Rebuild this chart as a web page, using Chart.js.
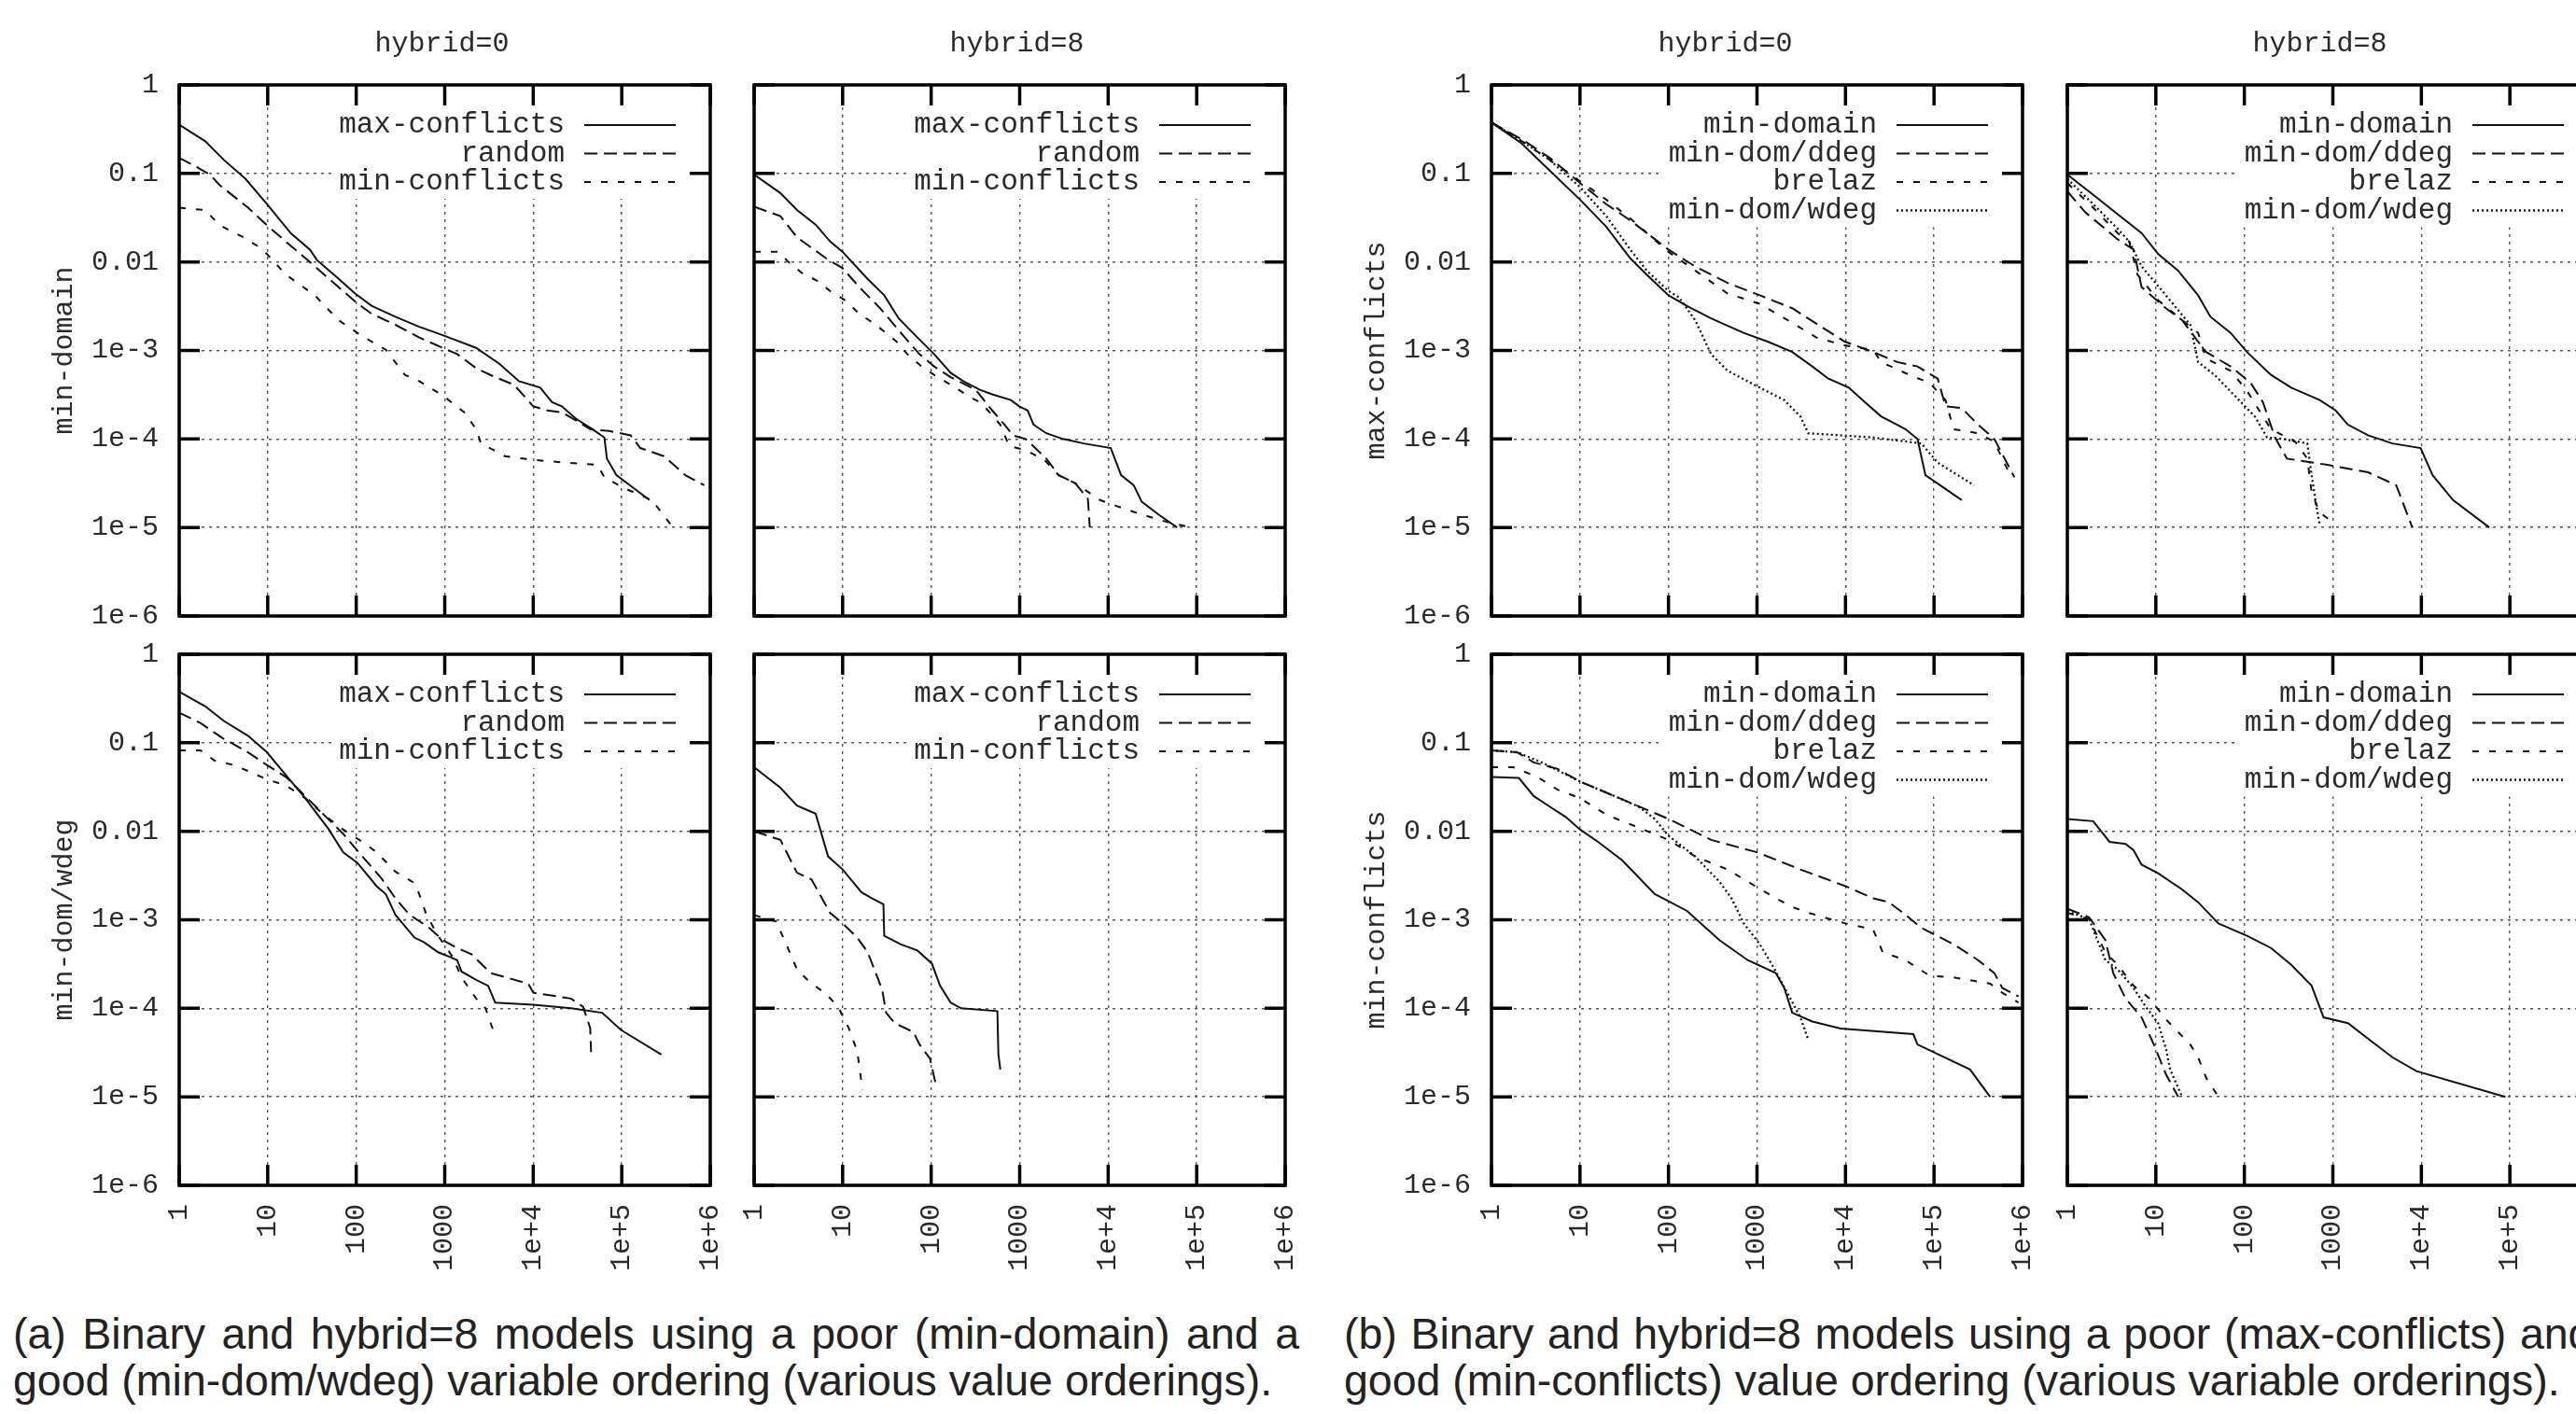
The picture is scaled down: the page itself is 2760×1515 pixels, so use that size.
<!DOCTYPE html>
<html>
<head>
<meta charset="utf-8">
<script src="https://cdn.jsdelivr.net/npm/chart.js@4.4.1/dist/chart.umd.min.js"></script>
<style>
  html, body { margin: 0; padding: 0; background: #fff; }
  body { width: 2760px; height: 1515px; position: relative; overflow: hidden; }
  canvas { position: absolute; }
  .caption {
    position: absolute;
    font-family: "Liberation Sans", Arial, sans-serif;
    font-size: 46.5px;
    line-height: 50px;
    color: #222;
    white-space: nowrap;
  }
  /* first caption line is justified to the column width, like the LaTeX original */
  .caption .full { width: 1378px; text-align: justify; text-align-last: justify; white-space: normal; }
</style>
</head>
<body>
<div class="caption" style="left:14px; top:1404px;"><div class="full">(a) Binary and hybrid=8 models using a poor (min-domain) and a</div><div>good (min-dom/wdeg) variable ordering (various value orderings).</div></div>
<div class="caption" style="left:1440px; top:1404px;"><div class="full">(b) Binary and hybrid=8 models using a poor (max-conflicts) and a</div><div>good (min-conflicts) value ordering (various variable orderings).</div></div>
<script>
// axis ticks
const xTickValues = [1, 10, 100, 1000, 1e4, 1e5, 1e6];
const xTickLabels = ["1", "10", "100", "1000", "1e+4", "1e+5", "1e+6"];
const yTickValues = [1e-6, 1e-5, 1e-4, 1e-3, 0.01, 0.1, 1];
const yTickLabels = ["1e-6", "1e-5", "1e-4", "1e-3", "0.01", "0.1", "1"];

const valueOrderings = ["max-conflicts", "random", "min-conflicts"];
const varOrderings = ["min-domain", "min-dom/ddeg", "brelaz", "min-dom/wdeg"];

// (a) top row: min-domain, hybrid=0 / hybrid=8   ([x, y] pairs)
const a1MaxConflicts = [[1,0.356],[1.97,0.231],[3.2,0.142],[5.6,0.087],[9.8,0.045],[18.3,0.021],[30,0.0138],[36,0.0105],[63,0.0065],[97,0.0044],[149,0.0032],[277,0.0024],[515,0.00185],[950,0.00149],[2265,0.00107],[4200,0.0007],[6900,0.00045],[12000,0.00038],[16300,0.00026],[21000,0.000234],[30300,0.00017],[46600,0.000129],[63600,0.000104],[68000,6.0e-5],[87000,3.9e-5],[206000,2.04e-5]];
const a1Random = [[1,0.15],[1.54,0.12],[2.23,0.097],[2.86,0.074],[6.0,0.041],[9.8,0.026],[16,0.017],[30,0.01],[55.6,0.0058],[103,0.0034],[149,0.0026],[277,0.00195],[515,0.0014],[950,0.00107],[1380,0.00091],[2265,0.00063],[3700,0.0005],[6060,0.00041],[10000,0.000234],[14500,0.00021],[21000,0.0002],[30300,0.000162],[44000,0.000129],[72000,0.000123],[126000,0.00011],[162000,7.9e-5],[298000,6.4e-5],[524000,3.9e-5],[854000,3.0e-5]];
const a1MinConflicts = [[1,0.041],[1.97,0.0386],[2.86,0.026],[5.3,0.019],[8.2,0.0145],[9.8,0.0123],[16,0.0072],[34,0.0042],[63,0.0022],[103,0.00158],[149,0.00126],[216,0.00102],[355,0.00053],[515,0.00045],[950,0.00031],[1660,0.0002],[2265,0.000129],[2570,8.9e-5],[4780,6.4e-5],[10000,5.8e-5],[23700,5.4e-5],[52800,5.1e-5],[63600,3.7e-5],[105000,2.8e-5],[219000,2.04e-5],[360000,1.07e-5]];

const a2MaxConflicts = [[1,0.097],[1.98,0.06],[3.05,0.0386],[4.95,0.0264],[7.2,0.0171],[10,0.013],[19.2,0.0064],[29.5,0.0042],[43,0.0023],[70,0.0014],[108,0.00091],[166,0.00056],[230,0.00045],[355,0.00036],[490,0.00032],[795,0.000275],[990,0.000234],[1230,0.00021],[1440,0.000145],[2000,0.000116],[3090,0.0001],[5300,8.9e-5],[10700,7.9e-5],[14000,3.9e-5],[19400,3.0e-5],[24000,1.95e-5],[37000,1.4e-5],[60000,1.0e-5]];
const a2Random = [[1,0.042],[1.98,0.033],[3.05,0.019],[6.5,0.011],[10,0.0085],[15.4,0.0052],[26.5,0.003],[50.5,0.0014],[73.5,0.00091],[108,0.00066],[166,0.0005],[318,0.00036],[490,0.00021],[676,0.000145],[840,0.00011],[1170,0.0001],[2000,6.0e-5],[2760,3.9e-5],[4260,3.16e-5],[5900,2.1e-5],[6200,1.0e-5]];
const a2MinConflicts = [[1,0.013],[1.87,0.013],[2.45,0.01],[3.4,0.0076],[5.2,0.0061],[7.2,0.0047],[10.6,0.0037],[15.4,0.0026],[23.7,0.00195],[40.7,0.00126],[53.7,0.00091],[78,0.00066],[108,0.00053],[166,0.00041],[257,0.00031],[355,0.00026],[437,0.00021],[605,0.000145],[760,8.3e-5],[1170,7.5e-5],[1900,5.8e-5],[2760,3.9e-5],[4260,3.16e-5],[8100,2.04e-5],[12600,1.74e-5],[24000,1.4e-5],[51000,1.12e-5],[87000,1.0e-5]];

// (a) bottom row: min-dom/wdeg
const a3MaxConflicts = [[1,0.377],[1.97,0.258],[3.2,0.176],[6.0,0.12],[9.8,0.078],[16.1,0.043],[26.5,0.0237],[49,0.0105],[71,0.0058],[103,0.0044],[170,0.0024],[216,0.00195],[277,0.00114],[455,0.00063],[580,0.00056],[842,0.00043],[1150,0.00038],[1380,0.00035],[1550,0.00026],[2265,0.00021],[3090,0.00018],[3720,0.000116],[10000,0.00011],[26700,0.0001],[60000,8.9e-5],[98000,5.7e-5],[280000,3.0e-5]];
const a3Random = [[1,0.219],[1.74,0.167],[3.04,0.114],[6,0.078],[9.8,0.056],[16.1,0.041],[26.5,0.025],[43,0.0154],[71,0.0094],[117,0.0052],[190,0.003],[277,0.00175],[400,0.00114],[660,0.00082],[950,0.00059],[1380,0.00048],[2000,0.00041],[3300,0.00025],[8800,0.00019],[10000,0.00015],[26700,0.000129],[36500,0.000104],[44000,6.0e-5],[45000,3.2e-5]];
const a3MinConflicts = [[1,0.082],[1.74,0.082],[2.5,0.063],[4.14,0.056],[6,0.048],[9.8,0.0386],[16,0.033],[26.5,0.0237],[43,0.0154],[71,0.0105],[117,0.0076],[170,0.0058],[277,0.0035],[455,0.0026],[515,0.00195],[620,0.00114],[842,0.00066],[1230,0.00038],[1550,0.000223],[2265,0.000129],[2890,0.0001],[3300,6.8e-5],[3720,4.9e-5]];

const a4MaxConflicts = [[1,0.053],[1.98,0.031],[3.05,0.0195],[4.95,0.0158],[6.85,0.0052],[10,0.0037],[16.3,0.00205],[21.3,0.00175],[28.9,0.0015],[29.5,0.00066],[45,0.00053],[70,0.00045],[102,0.00032],[126,0.00018],[166,0.000116],[218,0.0001],[560,9.3e-5],[575,3.0e-5],[605,2.04e-5]];
const a4Random = [[1,0.01],[1.98,0.008],[3.05,0.0034],[4.45,0.00285],[7.2,0.0012],[10,0.00091],[14.6,0.00063],[19.2,0.00043],[28,0.000162],[31,8.9e-5],[38.7,6.8e-5],[63,5.4e-5],[74,3.9e-5],[97,2.7e-5],[114,1.32e-5]];
const a4MinConflicts = [[1,0.00113],[1.77,0.00096],[2.2,0.00059],[3.05,0.000275],[4.2,0.0002],[6.5,0.000145],[8.9,0.000104],[11.7,6.0e-5],[14.6,3.3e-5],[16.8,1.19e-5]];

// (b) top row: max-conflicts
const b1MinDomain = [[1,0.377],[2.18,0.219],[4.55,0.108],[10,0.0506],[19.8,0.025],[37,0.011],[56.7,0.0072],[100,0.0042],[162,0.00317],[303,0.0023],[705,0.00158],[1320,0.00126],[2500,0.00096],[4220,0.00066],[6400,0.00048],[10900,0.00038],[16600,0.00026],[25200,0.00018],[38400,0.000145],[47500,0.000129],[65000,0.0001],[80000,3.9e-5],[206000,2.04e-5]];
const b1Ddeg = [[1,0.377],[2.4,0.231],[4.55,0.15],[10,0.078],[19.8,0.045],[37,0.0295],[100,0.0138],[200,0.0089],[465,0.0058],[1075,0.0042],[2500,0.003],[5800,0.00175],[9800,0.00126],[20500,0.00096],[38400,0.00074],[65000,0.00066],[110000,0.00048],[135000,0.000234],[206000,0.000223],[315000,0.000145],[480000,0.0001],[810000,3.7e-5]];
const b1Brelaz = [[1,0.377],[2.4,0.219],[4.55,0.142],[10,0.082],[19.8,0.0506],[37,0.031],[100,0.013],[200,0.008],[465,0.0044],[1075,0.00336],[2500,0.00205],[4700,0.0014],[9800,0.00114],[20500,0.00102],[25200,0.00074],[52500,0.00053],[89000,0.00043],[135000,0.000275],[166000,0.000129],[315000,0.000116],[480000,9.3e-5],[725000,3.9e-5]];
const b1Wdeg = [[1,0.377],[2.4,0.219],[4.55,0.142],[10,0.07],[19.8,0.033],[37,0.0138],[56.7,0.008],[100,0.0047],[131,0.004],[200,0.0022],[303,0.00091],[465,0.00059],[1075,0.00038],[2030,0.000275],[3090,0.00018],[3800,0.000116],[20500,0.000104],[72000,8.9e-5],[110000,5.4e-5],[283000,3.0e-5]];

const b2MinDomain = [[1,0.097],[2.17,0.053],[3.7,0.0346],[6.9,0.0212],[10.6,0.0123],[17.8,0.008],[30,0.0042],[41.4,0.0024],[70,0.00158],[107,0.00096],[200,0.00053],[339,0.00038],[710,0.000275],[1075,0.00021],[1480,0.000145],[2500,0.00011],[4700,8.9e-5],[9800,7.9e-5],[13400,3.9e-5],[22800,2.04e-5],[58500,1.0e-5]];
const b2Ddeg = [[1,0.063],[1.59,0.0365],[3.7,0.018],[5.6,0.0138],[6.9,0.0052],[13,0.003],[19.8,0.0022],[30,0.00126],[37,0.00096],[70,0.00066],[118,0.00043],[162,0.00026],[222,0.000104],[303,6.0e-5],[870,5.1e-5],[2500,4.2e-5],[5200,3.0e-5],[7900,1.0e-5]];
const b2Brelaz = [[1,0.078],[1.96,0.041],[3.7,0.0212],[5.0,0.017],[6.2,0.0072],[10.6,0.0037],[19.8,0.0022],[30,0.00158],[37,0.00081],[70,0.00059],[107,0.00035],[162,0.00018],[200,0.000129],[376,9.3e-5],[515,6.0e-5],[575,2.5e-5],[710,1.48e-5],[1030,1.12e-5]];
const b2Wdeg = [[1,0.087],[1.96,0.045],[3.7,0.0237],[5,0.017],[6.9,0.0089],[13,0.0042],[24.5,0.00195],[30,0.00074],[46,0.00053],[87,0.000275],[131,0.00018],[181,0.000104],[275,0.0001],[515,8.9e-5],[575,3.9e-5],[635,2.04e-5],[710,1.07e-5]];

// (b) bottom row: min-conflicts
const b3MinDomain = [[1,0.041],[2.04,0.04],[3.0,0.025],[4.55,0.019],[6.9,0.0145],[10,0.0105],[16,0.0076],[30,0.0047],[70,0.00195],[162,0.00126],[376,0.00059],[785,0.00035],[1630,0.00025],[2030,0.00017],[2500,8.9e-5],[4220,7.1e-5],[8800,5.9e-5],[58500,5.1e-5],[65000,3.9e-5],[255000,2.04e-5],[430000,1.0e-5]];
const b3Ddeg = [[1,0.082],[1.96,0.078],[3.0,0.06],[5.6,0.0506],[10,0.0365],[24.5,0.025],[100,0.0138],[303,0.008],[1000,0.0058],[3090,0.0037],[10000,0.0024],[20500,0.00175],[31000,0.00158],[47500,0.00114],[72000,0.00081],[166000,0.00053],[315000,0.00035],[480000,0.00025],[590000,0.00017],[900000,0.000136]];
const b3Brelaz = [[1,0.053],[1.76,0.053],[3.3,0.041],[5.6,0.0295],[10,0.0237],[19.8,0.0154],[46,0.011],[100,0.008],[200,0.0052],[465,0.0037],[785,0.0027],[1630,0.00175],[2500,0.0014],[3800,0.0012],[10000,0.00091],[20500,0.00078],[26300,0.00043],[47500,0.00035],[89000,0.000234],[166000,0.000223],[430000,0.00019],[590000,0.00015],[900000,0.000116]];
const b3Wdeg = [[1,0.082],[1.96,0.078],[3.7,0.06],[10,0.0365],[24.5,0.025],[46,0.019],[70,0.0138],[100,0.0089],[200,0.0052],[376,0.0027],[515,0.00175],[710,0.00091],[1075,0.00053],[1480,0.00031],[2240,0.000145],[3090,7.9e-5],[3800,4.4e-5]];

const b4MinDomain = [[1,0.0138],[1.96,0.013],[3.0,0.0076],[4.55,0.0072],[5.6,0.0061],[6.9,0.0042],[10.6,0.00336],[19.8,0.0022],[30,0.00158],[51,0.00091],[107,0.00066],[200,0.00048],[339,0.00031],[575,0.00018],[785,7.9e-5],[1480,6.8e-5],[2760,4.2e-5],[4700,2.8e-5],[8800,1.95e-5],[89000,1.0e-5]];
const b4Ddeg = [[1,0.00133],[1.76,0.00107],[2.69,0.00059],[3.3,0.00025],[4.55,0.000129],[6.9,7.9e-5],[9.5,3.9e-5],[13,1.8e-5],[17.9,1.0e-5]];
const b4Brelaz = [[1,0.0012],[1.76,0.00102],[2.69,0.00043],[3.7,0.00031],[5.6,0.00018],[8.5,0.000129],[13,7.5e-5],[24.5,3.9e-5],[30,2.8e-5],[37,1.64e-5],[51,1.0e-5]];
const b4Wdeg = [[1,0.00125],[1.76,0.00102],[2.69,0.00035],[3.7,0.000275],[5.6,0.00017],[7.7,0.000104],[10.6,6.8e-5],[13,3.5e-5],[14.5,2.04e-5],[19.8,1.0e-5]];

// line styles: solid, long dash, short dash, dots (gnuplot-ish)
const dashes = [[], [14, 7], [7, 11], [2, 3]];

const MONO = '"Liberation Mono", "DejaVu Sans Mono", monospace';
const TEXT = '#2a2a2a';
const PW = 569, PH = 569;

const panels = [
  { left: 192,  top: 91,  row: 0, col: 0, title: "hybrid=0", titleDx: -3,  yTitle: "min-domain",    names: valueOrderings, series: [a1MaxConflicts, a1Random, a1MinConflicts] },
  { left: 808,  top: 91,  row: 0, col: 1, title: "hybrid=8", titleDx: -3,  names: valueOrderings, series: [a2MaxConflicts, a2Random, a2MinConflicts] },
  { left: 192,  top: 701, row: 1, col: 0, yTitle: "min-dom/wdeg", names: valueOrderings, series: [a3MaxConflicts, a3Random, a3MinConflicts] },
  { left: 808,  top: 701, row: 1, col: 1, names: valueOrderings, series: [a4MaxConflicts, a4Random, a4MinConflicts] },
  { left: 1598, top: 91,  row: 0, col: 0, title: "hybrid=0", titleDx: -34, yTitle: "max-conflicts", names: varOrderings, series: [b1MinDomain, b1Ddeg, b1Brelaz, b1Wdeg] },
  { left: 2215, top: 91,  row: 0, col: 1, title: "hybrid=8", titleDx: -14, names: varOrderings, series: [b2MinDomain, b2Ddeg, b2Brelaz, b2Wdeg] },
  { left: 1598, top: 701, row: 1, col: 0, yTitle: "min-conflicts", names: varOrderings, series: [b3MinDomain, b3Ddeg, b3Brelaz, b3Wdeg] },
  { left: 2215, top: 701, row: 1, col: 1, names: varOrderings, series: [b4MinDomain, b4Ddeg, b4Brelaz, b4Wdeg] }
];

// gnuplot look: column title, white key box over the grid, key text + samples,
// heavy frame and inward ticks on all four sides
const gnuFrame = {
  id: 'gnuFrame',
  beforeDatasetsDraw(chart, args, opts) {
    const ctx = chart.ctx, a = chart.chartArea;
    const ds = chart.data.datasets;
    ctx.save();
    ctx.font = '31px ' + MONO;
    let maxW = 0;
    ds.forEach(d => { maxW = Math.max(maxW, ctx.measureText(d.label).width); });
    const x0 = a.left + 413 - maxW - 8;
    const y1 = a.top + 43 + (ds.length - 1) * 30.5 + 18;
    ctx.fillStyle = '#fff';
    ctx.fillRect(x0, a.top + 2, a.right - 2 - x0, y1 - a.top - 2);
    ctx.restore();
  },
  afterDatasetsDraw(chart, args, opts) {
    const ctx = chart.ctx, a = chart.chartArea;
    const xs = chart.scales.x, ys = chart.scales.y;
    ctx.save();
    if (opts.title) {
      ctx.font = '30px ' + MONO;
      ctx.fillStyle = TEXT;
      ctx.textAlign = 'center';
      ctx.textBaseline = 'middle';
      ctx.fillText(opts.title, (a.left + a.right) / 2 + opts.titleDx, a.top - 44);
    }
    // key
    ctx.font = '31px ' + MONO;
    ctx.textAlign = 'right';
    ctx.textBaseline = 'middle';
    chart.data.datasets.forEach((d, i) => {
      const y = a.top + 43 + i * 30.5;
      ctx.fillStyle = TEXT;
      ctx.fillText(d.label, a.left + 413, y);
      ctx.strokeStyle = '#111';
      ctx.lineWidth = d.borderWidth;
      ctx.setLineDash(d.borderDash);
      ctx.beginPath();
      ctx.moveTo(a.left + 434, y);
      ctx.lineTo(a.left + 532, y);
      ctx.stroke();
    });
    ctx.setLineDash([]);
    // ticks
    ctx.strokeStyle = '#000';
    ctx.lineWidth = 3.5;
    const len = 22;
    ctx.beginPath();
    xs.ticks.forEach(t => {
      const px = xs.getPixelForValue(t.value);
      ctx.moveTo(px, a.bottom); ctx.lineTo(px, a.bottom - len);
      ctx.moveTo(px, a.top); ctx.lineTo(px, a.top + len);
    });
    ys.ticks.forEach(t => {
      const py = ys.getPixelForValue(t.value);
      ctx.moveTo(a.left, py); ctx.lineTo(a.left + len, py);
      ctx.moveTo(a.right, py); ctx.lineTo(a.right - len, py);
    });
    ctx.stroke();
    // frame
    ctx.strokeRect(a.left, a.top, a.right - a.left, a.bottom - a.top);
    ctx.restore();
  }
};

function makePanel(p) {
  const ml = p.col === 0 ? 192 : 40;
  const mt = p.row === 0 ? 91 : 40;
  const mr = 70;
  const mb = p.row === 1 ? 160 : 40;
  const cv = document.createElement('canvas');
  cv.width = ml + PW + mr;
  cv.height = mt + PH + mb;
  cv.style.left = (p.left - ml) + 'px';
  cv.style.top = (p.top - mt) + 'px';
  document.body.appendChild(cv);

  const showX = p.row === 1;
  const showY = p.col === 0;

  new Chart(cv, {
    type: 'line',
    data: {
      datasets: p.series.map((s, i) => ({
        label: p.names[i],
        data: s.map(pt => ({ x: pt[0], y: pt[1] })),
        borderColor: '#111',
        borderWidth: i === 3 ? 2.3 : 2,
        borderDash: dashes[i],
        pointRadius: 0,
        tension: 0,
        fill: false
      }))
    },
    options: {
      responsive: false,
      animation: false,
      devicePixelRatio: 1,
      layout: { padding: { left: 0, top: mt, right: mr, bottom: 0 } },
      plugins: {
        legend: { display: false },
        tooltip: { enabled: false },
        gnuFrame: { title: p.title || '', titleDx: p.titleDx || 0 }
      },
      scales: {
        x: {
          type: 'logarithmic',
          position: 'bottom',
          min: 1, max: 1e6,
          afterBuildTicks: s => { s.ticks = xTickValues.map(v => ({ value: v })); },
          afterFit: s => { s.height = mb; },
          ticks: {
            display: showX,
            autoSkip: false,
            minRotation: 90, maxRotation: 90,
            padding: 20,
            color: TEXT,
            font: { family: MONO, size: 30 },
            callback: (v, i) => xTickLabels[i]
          },
          grid: { color: '#555', lineWidth: 1.4, drawTicks: false },
          border: { display: false, dash: [3, 5] }
        },
        y: {
          type: 'logarithmic',
          position: 'left',
          min: 1e-6, max: 1,
          afterBuildTicks: s => { s.ticks = yTickValues.map(v => ({ value: v })); },
          afterFit: s => { s.width = ml; },
          ticks: {
            display: showY,
            autoSkip: false,
            padding: 22,
            color: TEXT,
            font: { family: MONO, size: 30 },
            callback: (v, i) => yTickLabels[i]
          },
          title: {
            display: showY,
            text: p.yTitle || '',
            color: TEXT,
            font: { family: MONO, size: 30 },
            padding: { top: 51, bottom: 0 }
          },
          grid: { color: '#555', lineWidth: 1.4, drawTicks: false },
          border: { display: false, dash: [3, 5] }
        }
      }
    },
    plugins: [gnuFrame]
  });
}

panels.forEach(makePanel);
</script>
</body>
</html>
